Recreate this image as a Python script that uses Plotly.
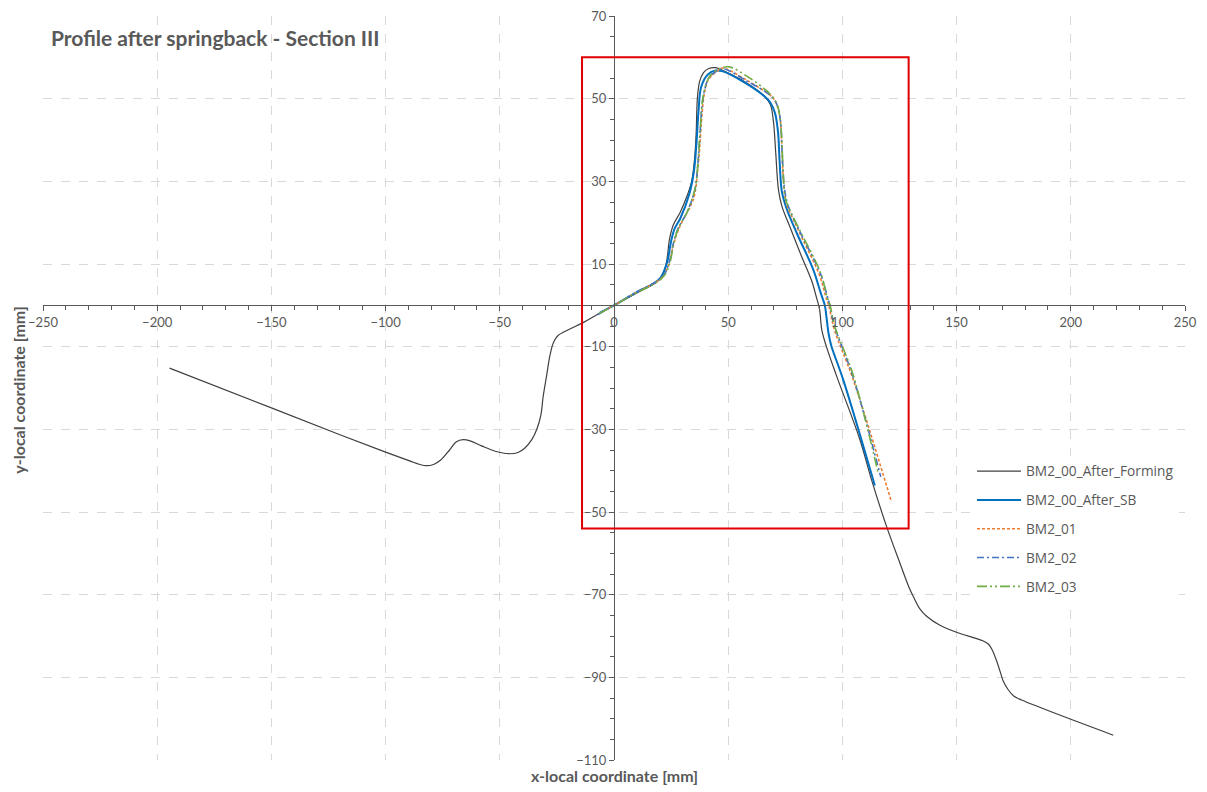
import plotly.graph_objects as go

# ---------------- data ----------------
forming_x = [-194.6, -150, -120, -100, -89.2, -85, -82.3, -79, -76, -72, -69, -66, -63, -58, -52, -46, -42, -39,
             -36, -33.8, -32, -31, -29.5, -28, -26.5, -24.5, -20, -14, -6, 0, 10, 18, 21, 23, 24.3, 26, 29, 32,
             34, 35.3, 36, 36.5, 37.5, 39.2, 41.5, 44.5, 47, 56, 66, 68.5, 69.8, 70.8, 72, 73.5, 77, 82, 86.5,
             88.6, 90, 91, 93, 97.4, 107.6, 112.8, 119.4, 125.2, 129, 131.1, 134, 137, 142.7, 151.5, 158, 161.7,
             164, 165.7, 167.5, 169, 170.5, 172.6, 175, 178.5, 218.6]
forming_y = [-15.2, -24.8, -31.3, -35.5, -37.7, -38.5, -38.8, -38.5, -37.5, -35, -33, -32.5, -32.8, -34, -35.3,
             -35.9, -35.6, -34.5, -32.5, -30, -26.5, -22, -17, -12, -9, -7.3, -5.9, -4.3, -1.8, 0, 3, 5.4, 7,
             10.5, 16, 19.5, 22.5, 26.5, 30, 35.5, 42, 50, 54.2, 56.3, 57.3, 57.5, 57.0, 54.5, 50.5, 48.5, 44.5,
             37, 28, 24, 19, 12, 6, 2, -1, -6, -10, -17, -32.4, -42.3, -53.6, -62.4, -68, -70.5, -73.5, -75.3,
             -77.4, -79.4, -80.5, -81.2, -82, -83.5, -86, -88.5, -91, -93, -94.5, -95.5, -104]

sb_x = [-6.3, 0, 10, 18, 20.5, 23.2, 25, 26.5, 29, 33, 35, 36.2, 37, 38.2, 41, 44.5, 47.7, 56.5, 66, 68.5, 70.5,
        71.8, 72.5, 73.5, 75.5, 80, 87.2, 90.5, 92.3, 93, 94, 95.2, 100.3, 114.2]
sb_y = [-1.8, 0, 3.2, 5.5, 6.8, 10.3, 15.5, 18.5, 21, 27, 32.5, 40, 47, 52.9, 55.8, 56.8, 56.6, 54.1, 50.5, 49,
        46.5, 42, 35, 27.5, 23.5, 17.5, 8.7, 3, 0, -2.7, -7, -9.9, -17.9, -43.6]

bm01_x = [-6.5, 0, 10, 18, 21.5, 24, 26, 28, 31, 33.5, 35.3, 36.5, 37.5, 38.5, 39.5, 41.2, 44.8, 47.5, 50, 58, 68,
          70.5, 72.6, 73.5, 74.2, 75.5, 80, 90.1, 92.5, 94, 96.5, 104.7, 121.5]
bm01_y = [-2, 0, 3.2, 5.5, 7.1, 10, 14.5, 18, 21.5, 24, 26.8, 32, 38, 46, 51, 54.5, 56.5, 57.4, 57, 54.5, 51,
          49.5, 45.6, 38, 30, 24.7, 19, 7.1, 2.5, 0, -5.9, -17.9, -47.6]

bm02_x = [-7, 0, 10, 18, 21.8, 24.2, 26, 28, 31.5, 33.8, 35.6, 36.7, 37.6, 38.5, 39.6, 41.5, 45, 48, 58, 68, 71,
          72.8, 73.6, 74.5, 76, 81, 90.5, 93.2, 94.5, 96.5, 104.5, 116.8]
bm02_y = [-2.2, 0, 3.3, 5.6, 7.3, 10.5, 15, 18.5, 22, 25, 28.5, 34, 41, 48, 52, 55, 56.7, 57.2, 54.3, 51, 49,
          45, 37, 29, 24.5, 18.3, 7.5, 2.5, 0, -5, -17, -41.5]

bm03_x = [-6.5, 0, 10, 18, 22, 24.5, 26.3, 28.5, 32, 34, 35.8, 36.8, 37.7, 38.6, 39.8, 42, 46, 50.5, 58, 66.7, 70,
          71.8, 73.3, 74, 75, 77, 81.5, 90.5, 93.3, 94.6, 96.6, 104.5, 115.6]
bm03_y = [-2, 0, 3.1, 5.3, 7.2, 10.3, 15.5, 19, 22.5, 25.5, 29, 35, 42, 49, 52.5, 55.5, 57.2, 57.7, 55.5, 52, 50,
          48, 41.6, 33, 26, 23, 18, 7.8, 2, 0, -5, -16.5, -40.4]

series_names = ["BM2_00_After_Forming", "BM2_00_After_SB", "BM2_01", "BM2_02", "BM2_03"]

x_range = [-250, 250]
y_range = [-110, 70]
x_ticks = [-250, -200, -150, -100, -50, 0, 50, 100, 150, 200, 250]
y_ticks = [70, 50, 30, 10, -10, -30, -50, -70, -90, -110]

box_x = [-14, 129]
box_y = [-54, 60]

# ---------------- figure ----------------
GREY = "#595959"
FONT = "Lato"

styles = [
    dict(color="#404040", width=1.2, dash="solid"),
    dict(color="#0070C0", width=2, dash="solid"),
    dict(color="#ED7D31", width=1.6, dash="3px,2px"),
    dict(color="#4472C4", width=1.6, dash="7px,3px,2px,3px"),
    dict(color="#70AD47", width=1.6, dash="10px,3px,2px,3px,2px,3px"),
]
data_xy = [(forming_x, forming_y), (sb_x, sb_y), (bm01_x, bm01_y), (bm02_x, bm02_y), (bm03_x, bm03_y)]

fig = go.Figure()
for i, (name, (xs, ys), st) in enumerate(zip(series_names, data_xy, styles)):
    fig.add_trace(go.Scatter(x=xs, y=ys, mode="lines", name=name, line=st,
                             line_shape="spline", legendgroup=f"g{i}"))

fig.add_shape(type="rect", xref="x", yref="y", x0=box_x[0], x1=box_x[1], y0=box_y[0], y1=box_y[1],
              line=dict(color="#E00000", width=2), fillcolor="rgba(0,0,0,0)")

x_pos = (0 - y_range[0]) / (y_range[1] - y_range[0])
y_pos = (0 - x_range[0]) / (x_range[1] - x_range[0])

axis_common = dict(
    showline=True, linecolor=GREY, linewidth=1,
    showgrid=True, gridcolor="#d9d9d9", griddash="dash", gridwidth=1,
    zeroline=False, ticks="outside", ticklen=5, tickcolor=GREY,
    tickfont=dict(family=FONT, size=13, color=GREY),
    anchor="free", automargin=False,
)

fig.update_layout(
    width=1207, height=792,
    margin=dict(l=43, r=22, t=16, b=32),
    paper_bgcolor="white", plot_bgcolor="white",
    font=dict(family=FONT, color=GREY),
    xaxis=dict(range=x_range, tickvals=x_ticks, position=x_pos,
               minor=dict(ticks="outside", ticklen=4, dtick=10, tick0=0, tickcolor=GREY, showgrid=False),
               **axis_common),
    yaxis=dict(range=y_range, tickvals=y_ticks, position=y_pos,
               minor=dict(ticks="outside", ticklen=4, dtick=5, tick0=0, tickcolor=GREY, showgrid=False),
               **axis_common),
    title=dict(text="<b>Profile after springback - Section III</b>", xref="container", yref="container",
               x=51 / 1207, xanchor="left", y=1 - 39 / 792, yanchor="middle",
               font=dict(family=FONT, size=21, color=GREY)),
    legend=dict(x=0.8135, y=0.409, xanchor="left", yanchor="top", bgcolor="white",
                font=dict(family="Open Sans", size=13.7, color=GREY), tracegroupgap=8,
                traceorder="grouped", itemwidth=44),
    showlegend=True,
)

fig.add_annotation(text="<b>x-local coordinate [mm]</b>", xref="paper", yref="paper", x=0.5, y=-0.0215,
                   xanchor="center", yanchor="middle", showarrow=False,
                   font=dict(family=FONT, size=16, color=GREY))
fig.add_annotation(text="<b>y-local coordinate [mm]</b>", xref="paper", yref="paper", x=-0.0215, y=0.497,
                   xanchor="center", yanchor="middle", showarrow=False, textangle=-90,
                   font=dict(family=FONT, size=16, color=GREY))

fig.write_html("out.html")
